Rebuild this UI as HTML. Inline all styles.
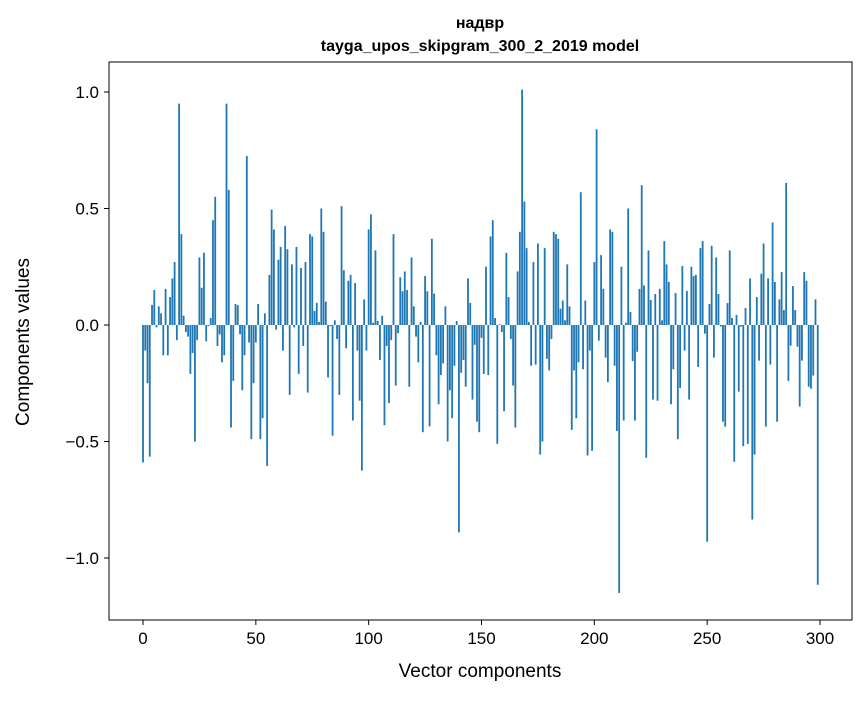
<!DOCTYPE html>
<html><head><meta charset="utf-8"><style>
body{margin:0;background:#fff;}
svg text{font-family:"Liberation Sans","DejaVu Sans",sans-serif;fill:#000;}
</style></head><body>
<svg id="chart" width="867" height="696" viewBox="0 0 867 696" xmlns="http://www.w3.org/2000/svg">
<rect width="867" height="696" fill="#fff"/>
<text x="480" y="28" text-anchor="middle" font-size="16" font-weight="bold">надвр</text>
<text x="480" y="51" text-anchor="middle" font-size="16" font-weight="bold">tayga_upos_skipgram_300_2_2019 model</text>
<g id="bars"></g>
<g id="axes"></g>
<rect x="109" y="62" width="743" height="558" fill="none" stroke="#000" stroke-width="1"/>
<text x="480" y="677" text-anchor="middle" font-size="19">Vector components</text>
<text transform="translate(29,342) rotate(-90)" text-anchor="middle" font-size="19">Components values</text>
</svg>
<script>
const values = [
-0.59,-0.11,-0.25,-0.565,0.086,0.15,-0.01,0.08,0.05,-0.13,0.155,-0.13,0.12,0.2,0.27,-0.065,0.95,0.39,0.04,-0.03,-0.05,-0.21,-0.12,-0.5,-0.065,0.29,0.16,0.31,-0.07,-0.005,0.03,0.45,0.55,-0.09,-0.04,-0.16,-0.13,0.95,0.58,-0.44,-0.24,0.09,0.085,-0.04,-0.28,-0.13,0.725,-0.075,-0.49,-0.25,
-0.075,0.09,-0.49,-0.40,0.05,-0.605,0.215,0.495,0.41,-0.02,0.28,0.335,-0.11,0.425,0.325,-0.30,0.26,-0.01,0.335,-0.21,0.245,-0.09,0.27,-0.29,0.39,0.38,0.06,0.095,0.013,0.50,0.40,0.1,-0.225,-0.005,-0.475,0.02,-0.06,-0.30,0.51,0.235,-0.10,0.19,0.215,-0.41,0.18,-0.11,-0.325,-0.625,0.11,-0.11,
0.41,0.475,0.01,0.32,0.017,-0.15,0.04,-0.43,-0.09,-0.335,-0.065,0.39,-0.26,-0.035,0.205,0.145,0.23,0.15,-0.265,0.29,0.08,-0.05,-0.16,0.013,-0.46,0.21,0.145,-0.435,0.37,0.135,-0.13,-0.34,-0.215,-0.165,0.08,-0.50,-0.28,-0.40,-0.175,0.017,-0.89,-0.205,-0.15,-0.265,0.20,0.095,-0.32,-0.085,-0.415,-0.46,
-0.055,-0.21,0.25,-0.215,0.38,0.45,0.03,-0.51,0.003,-0.03,-0.37,0.31,0.12,-0.06,-0.26,-0.44,0.23,0.40,1.01,0.53,0.33,0.013,-0.175,0.27,-0.17,0.35,-0.556,-0.50,0.33,-0.145,-0.195,-0.06,0.40,0.39,0.37,0.07,0.105,0.02,0.26,0.08,-0.45,-0.195,-0.40,-0.16,0.57,-0.19,0.105,-0.56,-0.11,-0.54,
0.27,0.84,-0.067,0.30,0.155,-0.14,-0.245,0.41,0.40,-0.175,-0.455,-1.15,0.25,-0.41,0.01,0.50,0.056,-0.155,-0.41,-0.115,0.155,0.60,0.17,-0.57,0.32,0.107,-0.32,0.133,-0.325,0.155,0.02,0.36,0.26,0.185,-0.34,-0.19,0.137,-0.49,-0.27,0.253,-0.11,0.146,-0.32,0.25,0.21,0.215,-0.18,0.33,0.36,-0.037,
-0.93,0.09,0.34,-0.14,0.29,0.133,-0.007,-0.415,-0.436,0.094,0.32,0.03,-0.587,0.043,-0.286,-0.007,-0.52,0.073,-0.51,0.20,-0.835,-0.556,0.12,-0.153,0.22,0.35,-0.436,0.20,-0.17,0.44,0.185,-0.415,0.11,0.227,0.064,0.61,-0.24,-0.089,0.167,0.064,-0.093,-0.35,-0.153,0.227,0.19,-0.265,-0.273,-0.217,0.11,-1.115
];
const xTicks = [0,50,100,150,200,250,300];
const yTicks = [-1.0,-0.5,0.0,0.5,1.0];
const yTickLabels = ["\u22121.0","\u22120.5","0.0","0.5","1.0"];

const NS = "http://www.w3.org/2000/svg";
function xScale(v){ return 143 + v * (677/300); }
function yScale(v){ return 325 - v * 233; }
const barW = 0.8 * (677/300);
const bars = document.getElementById('bars');
values.forEach((v,i)=>{
  const r = document.createElementNS(NS,'rect');
  const y0 = yScale(0), y1 = yScale(v);
  r.setAttribute('x', xScale(i) - barW/2);
  r.setAttribute('y', Math.min(y0,y1));
  r.setAttribute('width', barW);
  r.setAttribute('height', Math.abs(y1-y0));
  r.setAttribute('fill', '#1f77b4');
  
  
  bars.appendChild(r);
});
const axes = document.getElementById('axes');
xTicks.forEach(t=>{
  const x = xScale(t);
  const l = document.createElementNS(NS,'line');
  l.setAttribute('x1',x); l.setAttribute('x2',x); l.setAttribute('y1',620); l.setAttribute('y2',625);
  l.setAttribute('stroke','#000');
  
  
  axes.appendChild(l);
  const tx = document.createElementNS(NS,'text');
  tx.setAttribute('x',x); tx.setAttribute('y',644); tx.setAttribute('text-anchor','middle'); tx.setAttribute('font-size','17');
  tx.textContent = String(t);
  
  
  axes.appendChild(tx);
});
yTicks.forEach((t,k)=>{
  const y = yScale(t);
  const l = document.createElementNS(NS,'line');
  l.setAttribute('x1',104); l.setAttribute('x2',109); l.setAttribute('y1',y); l.setAttribute('y2',y);
  l.setAttribute('stroke','#000');
  
  
  axes.appendChild(l);
  const tx = document.createElementNS(NS,'text');
  tx.setAttribute('x',99); tx.setAttribute('y',y+6); tx.setAttribute('text-anchor','end'); tx.setAttribute('font-size','17');
  tx.textContent = yTickLabels[k];
  
  
  axes.appendChild(tx);
});
</script>
</body></html>
